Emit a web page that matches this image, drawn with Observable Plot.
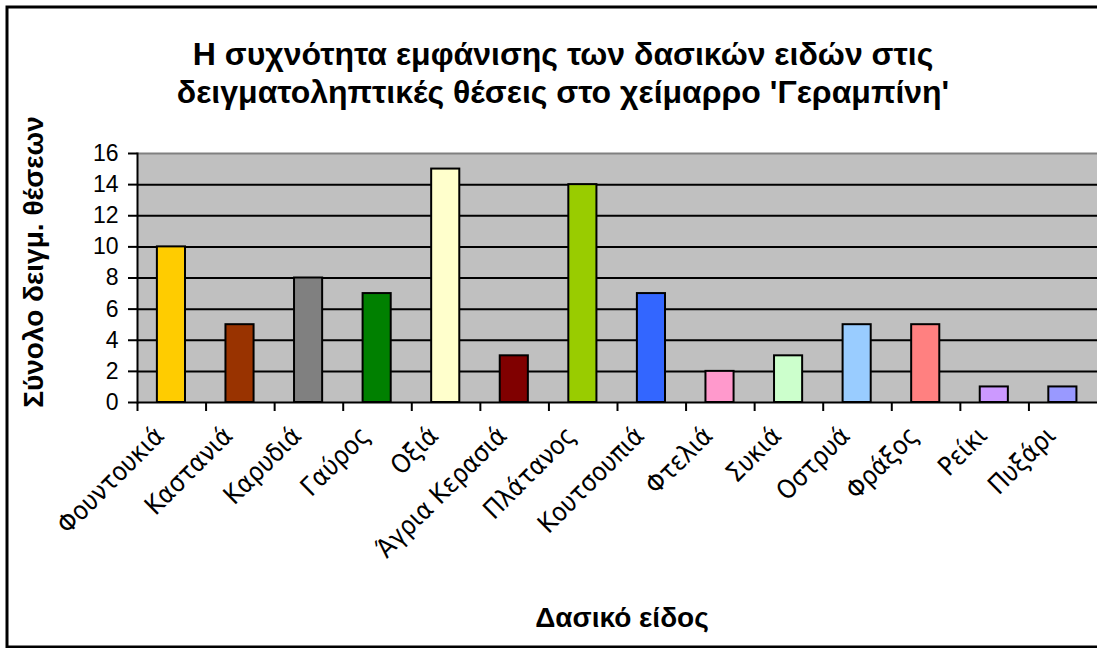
<!DOCTYPE html>
<html>
<head>
<meta charset="utf-8">
<script src="https://cdn.jsdelivr.net/npm/d3@7"></script>
<script src="https://cdn.jsdelivr.net/npm/@observablehq/plot@0.6"></script>
<style>
  html, body { margin: 0; padding: 0; background: #fff; }
  #chart { position: relative; width: 1097px; height: 648px; overflow: hidden; }
</style>
</head>
<body>
<div id="chart"></div>
<script>
const categories = ["Φουντουκιά","Καστανιά","Καρυδιά","Γαύρος","Οξιά","Άγρια Κερασιά","Πλάτανος","Κουτσουπιά","Φτελιά","Συκιά","Οστρυά","Φράξος","Ρείκι","Πυξάρι"];
const values = [10,5,8,7,15,3,14,7,2,3,5,5,1,1];
const colors = ["#FFCC00","#993300","#808080","#008000","#FFFFCC","#800000","#99CC00","#3366FF","#FF99CC","#CCFFCC","#99CCFF","#FF8080","#CC99FF","#9999FF"];
const yTicks = [0,2,4,6,8,10,12,14,16];
const gridValues = [2,4,6,8,10,12,14];
const titleLines = ["Η συχνότητα εμφάνισης των δασικών ειδών στις","δειγματοληπτικές θέσεις στο χείμαρρο 'Γεραμπίνη'"];
const yTitle = "Σύνολο δειγμ. θέσεων";
const xTitle = "Δασικό είδος";

const data = categories.map((c, i) => ({cat: c, value: values[i], color: colors[i]}));

const W = 1097, H = 648;
const mL = 137, mR = 0, mT = 153, mB = 246;
const step = (W - mL - mR) / categories.length;

const plot = Plot.plot({
  width: W,
  height: H,
  marginLeft: mL,
  marginRight: mR,
  marginTop: mT,
  marginBottom: mB,
  style: {fontFamily: "'Liberation Sans', Arial, sans-serif", background: "transparent", overflow: "visible"},
  x: {domain: categories, padding: 0, round: false, label: null},
  y: {domain: [0, 16], label: null},
  marks: [
    Plot.frame({fill: "#C0C0C0", stroke: null}),
    Plot.ruleY(gridValues, {stroke: "#000", strokeWidth: 2}),
    Plot.ruleY([16], {stroke: "#808080", strokeWidth: 2}),
    Plot.barY(data, {x: "cat", y: "value", fill: "color", stroke: "#000", strokeWidth: 2, insetLeft: step * 0.29, insetRight: step * 0.3}),
    Plot.ruleY([0], {stroke: "#000", strokeWidth: 2}),
    Plot.frame({anchor: "left", stroke: "#000", strokeWidth: 2}),
    Plot.axisY({ticks: yTicks, tickSize: 9, tickPadding: 10, fontSize: 23, stroke: "#000", strokeWidth: 2, strokeOpacity: 1, label: null}),
    Plot.axisX({tickSize: 9, text: null, dx: -step / 2, stroke: "#000", strokeWidth: 2, strokeOpacity: 1, label: null}),
    Plot.axisX({tickSize: 0, tickRotate: -45, tickPadding: 29, dx: -12, fontSize: 26, fontFamily: "'DejaVu Sans Condensed', 'DejaVu Sans', sans-serif", label: null})
  ]
});

const svg = d3.select(plot);
// outer chart border
svg.insert("rect", ":first-child")
  .attr("x", 7).attr("y", 7).attr("width", W + 10).attr("height", H - 8)
  .attr("fill", "#fff").attr("stroke", "#000").attr("stroke-width", 3);

const t = svg.append("text")
  .attr("text-anchor", "middle")
  .attr("font-family", "'Liberation Sans', Arial, sans-serif")
  .attr("font-weight", "bold")
  .attr("font-size", 32)
  .attr("fill", "#000");
[65, 103].forEach((y, i) => {
  t.append("tspan").attr("x", 563).attr("y", y).text(titleLines[i]);
});

svg.append("text")
  .attr("transform", `translate(43, 262) rotate(-90)`)
  .attr("text-anchor", "middle")
  .attr("font-family", "'Liberation Sans', Arial, sans-serif")
  .attr("font-weight", "bold")
  .attr("font-size", 28)
  .attr("fill", "#000")
  .text(yTitle);

svg.append("text")
  .attr("x", 622).attr("y", 627)
  .attr("text-anchor", "middle")
  .attr("font-family", "'Liberation Sans', Arial, sans-serif")
  .attr("font-weight", "bold")
  .attr("font-size", 28)
  .attr("fill", "#000")
  .text(xTitle);

document.getElementById("chart").appendChild(plot);
</script>
</body>
</html>
